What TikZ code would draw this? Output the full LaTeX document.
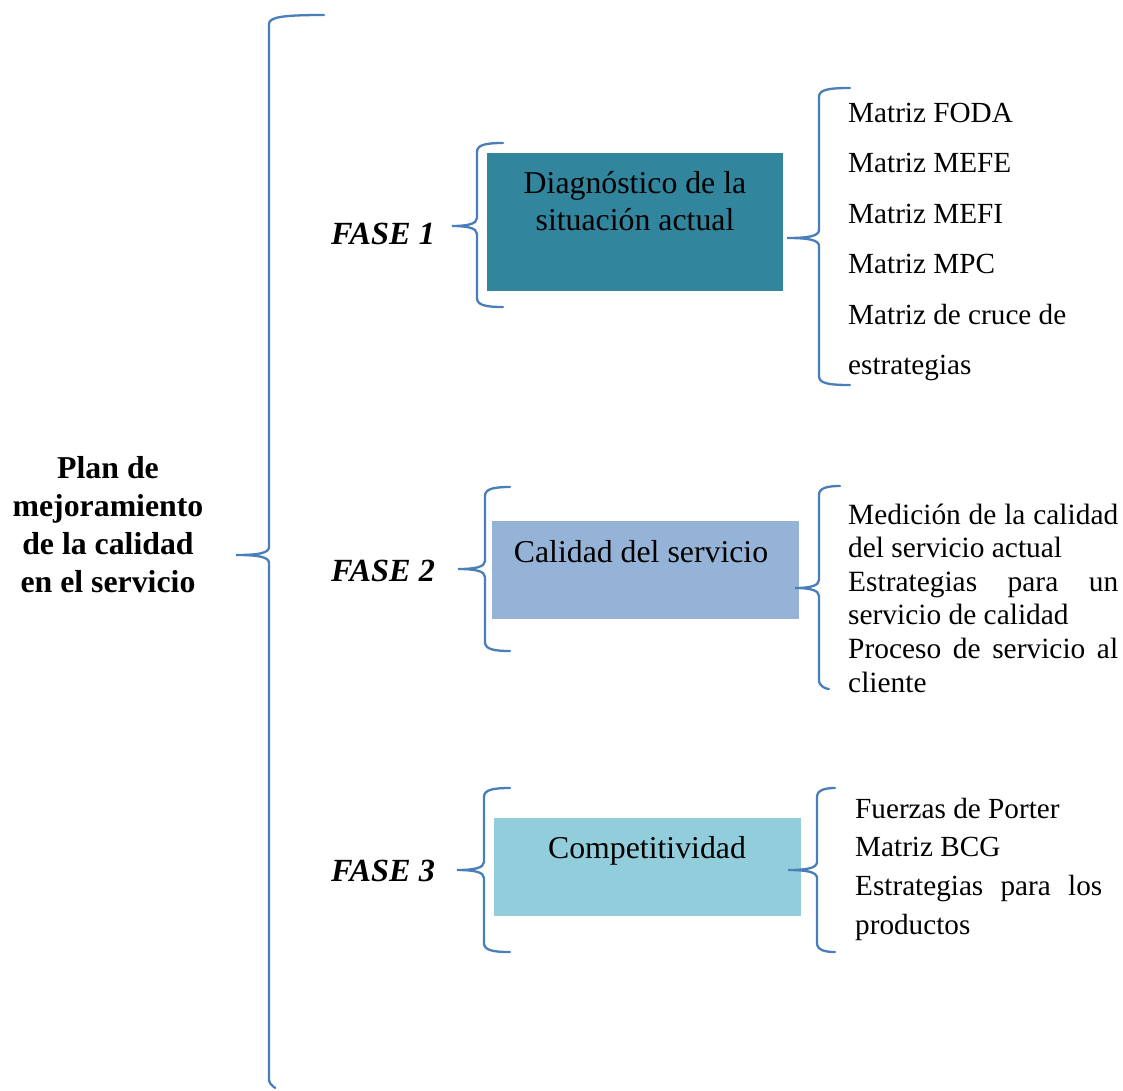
\documentclass[tikz,border=0pt]{standalone}
\usepackage{fontspec}
\setmainfont{Liberation Serif}
\definecolor{bracecol}{HTML}{4A7EBB}
\definecolor{tealbox}{HTML}{31859C}
\definecolor{bluebox}{HTML}{95B3D7}
\definecolor{aquabox}{HTML}{92CDDC}
% curly brace opening to the right:
% [#1 end-curve reach] #2 vertical x, #3 top y, #4 bottom y, #5 tip x, #6 tip y, #7 top end x, #8 bottom end x
\newcommand{\curlybrace}[8][8]{%
  \draw[bracestroke] (#7,#3) .. controls (#2+#1,#3) and (#2,#3+2) .. (#2,#3+9)
    -- (#2,#6-8) .. controls (#2,#6-2) and (#2-10,#6) .. (#5,#6)
    .. controls (#2-10,#6) and (#2,#6+2) .. (#2,#6+8)
    -- (#2,#4-9) .. controls (#2,#4-2) and (#2+8,#4) .. (#8,#4);}
\begin{document}
\begin{tikzpicture}[x=1pt,y=-1pt,
  bracestroke/.style={draw=bracecol,line width=2.3pt,line cap=round},
  phasebox/.style={draw=none,inner sep=0pt,anchor=north west},
  plain/.style={inner sep=0pt,anchor=base west},
  boxtext/.style={inner sep=0pt,anchor=base},
  fase/.style={inner sep=0pt,anchor=base,font=\fontsize{32.3}{38}\selectfont\bfseries\itshape}]
\useasboundingbox (0,0) rectangle (1123,1090);

% title
\node[inner sep=0pt,align=center,font=\fontsize{31.8}{38}\selectfont\bfseries] (title) at (108,525)
  {Plan de\\mejoramiento\\de la calidad\\en el servicio};

% phase labels
\node[fase] (f1) at (383,244) {FASE 1};
\node[fase] (f2) at (383,581) {FASE 2};
\node[fase] (f3) at (383,881) {FASE 3};

% phase boxes
\node[phasebox,fill=tealbox,minimum width=296pt,minimum height=138pt] (b1) at (487,153) {};
\node[phasebox,fill=bluebox,minimum width=307pt,minimum height=98pt] (b2) at (492,521) {};
\node[phasebox,fill=aquabox,minimum width=307pt,minimum height=98pt] (b3) at (494,818) {};

\node[boxtext] (t1) at (635,193) {\parbox[t]{296pt}{\centering\fontsize{31.8}{37}\selectfont Diagnóstico de la\\situación actual}};
\node[boxtext] (t2) at (641,562) {\fontsize{31.8}{37}\selectfont Calidad del servicio};
\node[boxtext] (t3) at (647,858) {\fontsize{31.8}{37}\selectfont Competitividad};

% item lists
\node[plain] (l1) at (848,122) {\parbox[t]{300pt}{\fontsize{29.2}{50.5}\selectfont
  Matriz FODA\\Matriz MEFE\\Matriz MEFI\\Matriz MPC\\Matriz de cruce de\\estrategias}};
\node[plain] (l2) at (848,524) {\parbox[t]{270pt}{\fontsize{29.4}{33.6}\selectfont
  \makebox[270pt][s]{Medición de la calidad}\\del servicio actual\\
  \makebox[270pt][s]{Estrategias para un}\\servicio de calidad\\
  \makebox[270pt][s]{Proceso de servicio al}\\cliente}};
\node[plain] (l3) at (855,818) {\parbox[t]{247pt}{\fontsize{29.2}{38.7}\selectfont
  Fuerzas de Porter\\Matriz BCG\\
  \makebox[247pt][s]{Estrategias para los}\\productos}};

% braces
\curlybrace[14]{269}{15}{1088}{236}{555}{324}{275}
\curlybrace{477}{143}{307}{452}{226}{503}{503}
\curlybrace{485}{487}{651}{458}{569}{510}{510}
\curlybrace{484}{788}{952}{457}{870}{510}{510}
\curlybrace{819}{88}{385}{787}{238}{850}{850}
\curlybrace{819}{486}{689}{795}{588}{840}{829}
\curlybrace{817}{788}{952}{788}{870}{835}{835}
\end{tikzpicture}
\end{document}
